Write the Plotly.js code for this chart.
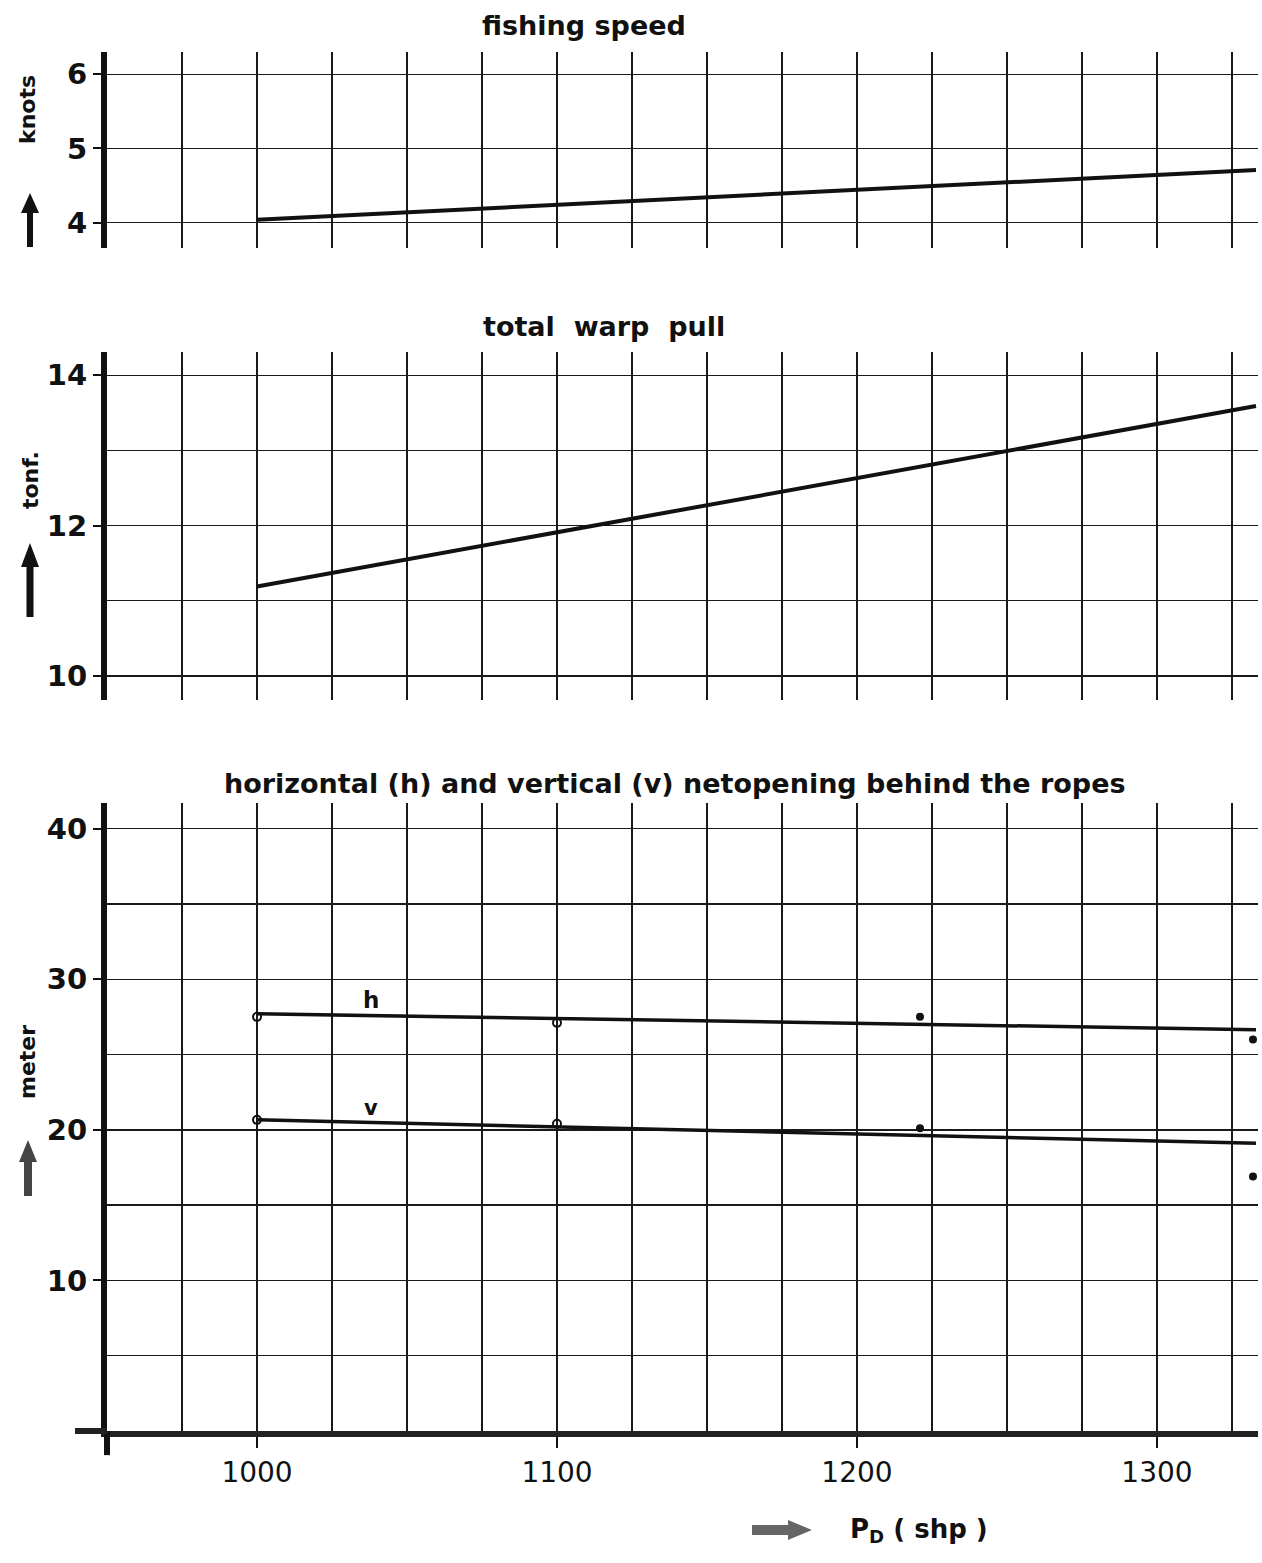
<!DOCTYPE html>
<html>
<head>
<meta charset="utf-8">
<script src="https://cdn.plot.ly/plotly-3.0.1.min.js"></script>
<style>
html,body{margin:0;padding:0;background:#fff;}
#chart{width:1262px;height:1563px;}
</style>
</head>
<body>
<div id="chart"></div>
<script>
// ---- data ----
const speedX = [1000, 1333];
const speedY = [4.04, 4.71];

const pullX = [1000, 1333];
const pullY = [11.19, 13.59];

const hLineX = [1000, 1333];
const hLineY = [27.7, 26.65];
const vLineX = [1000, 1333];
const vLineY = [20.66, 19.1];

const hOpenX = [1000, 1100];
const hOpenY = [27.5, 27.1];
const hFillX = [1221, 1332];
const hFillY = [27.5, 26.0];

const vOpenX = [1000, 1100];
const vOpenY = [20.66, 20.4];
const vFillX = [1221, 1332];
const vFillY = [20.1, 16.9];

const xTickVals = [1000, 1100, 1200, 1300];
const xTickText = ['1000', '1100', '1200', '1300'];
const netTickVals = [10, 20, 30, 40];
const netTickText = ['10', '20', '30', '40'];

const titles = ['fishing speed', 'total  warp  pull',
  'horizontal (h) and vertical (v) netopening behind the ropes'];
const yTitles = ['knots', 'tonf.', 'meter'];

// ---- styling ----
const W = 1262, H = 1563;
const M = {l: 107, r: 4, t: 52, b: 132};
const PW = W - M.l - M.r, PH = H - M.t - M.b;
const titleFont = {family: 'DejaVu Sans', size: 27, color: '#111', weight: 'bold'};
const yTitleFont = {family: 'DejaVu Sans', size: 22, color: '#111', weight: 'bold'};
const yTickFont = {family: 'DejaVu Sans', size: 29, color: '#111', weight: 'bold'};
const gridCol = '#1a1a1a';

const xBase = {
  range: [950, 1333.67],
  showgrid: true, gridcolor: gridCol, gridwidth: 1.6,
  tickvals: xTickVals, ticktext: xTickText,
  minor: {dtick: 25, tick0: 1000, showgrid: true, gridcolor: gridCol, gridwidth: 1.6, ticks: ''},
  zeroline: false, fixedrange: true
};
function yBase(extra) {
  return Object.assign({
    showline: true, linecolor: '#111', linewidth: 6,
    showgrid: true, gridcolor: gridCol, gridwidth: 1.4,
    ticks: 'outside', ticklen: 8, tickwidth: 2, tickcolor: '#111',
    tickfont: yTickFont, zeroline: false, fixedrange: true
  }, extra);
}

const lineStyle = {color: '#111', width: 4};
const thinLine = {color: '#111', width: 3.5};
const openMarker = {symbol: 'circle-open', size: 8, color: '#111', line: {width: 2, color: '#111'}};
const fillMarker = {symbol: 'circle', size: 8, color: '#111'};

const traces = [
  {x: speedX, y: speedY, xaxis: 'x', yaxis: 'y', mode: 'lines', line: lineStyle},
  {x: pullX, y: pullY, xaxis: 'x2', yaxis: 'y2', mode: 'lines', line: lineStyle},
  {x: hLineX, y: hLineY, xaxis: 'x3', yaxis: 'y3', mode: 'lines', line: thinLine},
  {x: vLineX, y: vLineY, xaxis: 'x3', yaxis: 'y3', mode: 'lines', line: thinLine},
  {x: hOpenX, y: hOpenY, xaxis: 'x3', yaxis: 'y3', mode: 'markers', marker: openMarker},
  {x: vOpenX, y: vOpenY, xaxis: 'x3', yaxis: 'y3', mode: 'markers', marker: openMarker},
  {x: hFillX, y: hFillY, xaxis: 'x3', yaxis: 'y3', mode: 'markers', marker: fillMarker},
  {x: vFillX, y: vFillY, xaxis: 'x3', yaxis: 'y3', mode: 'markers', marker: fillMarker}
];

function txt(text, x, y, font, extra) {
  return Object.assign({text: text, xref: 'paper', yref: 'paper', x: x, y: y,
    xanchor: 'center', yanchor: 'middle', showarrow: false, font: font}, extra || {});
}
// decorative arrows as filled paths, given in page pixels -> paper fractions
const px = v => ((v - M.l) / PW).toFixed(5);
const py = v => (1 - (v - M.t) / PH).toFixed(5);
function upArrowPath(cx, tip, base, tail, hw, sw, col) {
  const d = 'M' + px(cx) + ',' + py(tip) +
    ' L' + px(cx + hw) + ',' + py(base) + ' L' + px(cx + sw) + ',' + py(base) +
    ' L' + px(cx + sw) + ',' + py(tail) + ' L' + px(cx - sw) + ',' + py(tail) +
    ' L' + px(cx - sw) + ',' + py(base) + ' L' + px(cx - hw) + ',' + py(base) + ' Z';
  return {type: 'path', xref: 'paper', yref: 'paper', path: d, fillcolor: col, line: {width: 0}};
}
function rightArrowPath(cy, tip, base, tail, hh, sh, col) {
  const d = 'M' + px(tip) + ',' + py(cy) +
    ' L' + px(base) + ',' + py(cy - hh) + ' L' + px(base) + ',' + py(cy - sh) +
    ' L' + px(tail) + ',' + py(cy - sh) + ' L' + px(tail) + ',' + py(cy + sh) +
    ' L' + px(base) + ',' + py(cy + sh) + ' L' + px(base) + ',' + py(cy + hh) + ' Z';
  return {type: 'path', xref: 'paper', yref: 'paper', path: d, fillcolor: col, line: {width: 0}};
}

const layout = {
  width: W, height: H,
  margin: M,
  paper_bgcolor: '#fff', plot_bgcolor: '#fff',
  showlegend: false,
  xaxis: Object.assign({}, xBase, {anchor: 'y', showticklabels: false, ticks: ''}),
  xaxis2: Object.assign({}, xBase, {anchor: 'y2', showticklabels: false, ticks: ''}),
  xaxis3: Object.assign({}, xBase, {anchor: 'y3', showticklabels: true,
    ticks: 'outside', ticklen: 11, tickwidth: 2.5, tickcolor: '#111',
    showline: true, linecolor: '#222', linewidth: 6,
    tickfont: {family: 'DejaVu Sans', size: 28, color: '#111'}}),
  yaxis: yBase({domain: [0.8579, 1.0], range: [3.66, 6.30], dtick: 1, tick0: 4}),
  yaxis2: yBase({domain: [0.5301, 0.7825], range: [9.68, 14.31], dtick: 2, tick0: 10,
    minor: {dtick: 1, tick0: 10, showgrid: true, gridcolor: gridCol, gridwidth: 1.4, ticks: ''}}),
  yaxis3: yBase({domain: [0, 0.4554], range: [0, 41.7], tickvals: netTickVals, ticktext: netTickText,
    minor: {dtick: 5, tick0: 0, showgrid: true, gridcolor: gridCol, gridwidth: 1.4, ticks: ''}}),
  shapes: [
    // axis overshoot below the zero line and left of the y axis
    {type: 'line', xref: 'paper', yref: 'paper', x0: 0, x1: 0, y0: -0.0175, y1: 0,
     line: {color: '#111', width: 6}},
    {type: 'line', xref: 'paper', yref: 'paper', x0: -0.0278, x1: 0, y0: 0, y1: 0,
     line: {color: '#222', width: 6}},
    upArrowPath(30, 193, 213, 247, 9, 3, '#111'),
    upArrowPath(30, 543, 567, 617, 9, 3.5, '#111'),
    upArrowPath(28, 1140, 1162, 1196, 9, 4, '#444'),
    rightArrowPath(1530, 812, 788, 752, 10, 5, '#666')
  ],
  annotations: [
    txt(titles[0], 0.4144, 1.0189, titleFont),
    txt(titles[1], 0.4318, 0.8006, titleFont),
    txt(titles[2], 0.4935, 0.4699, titleFont),
    txt(yTitles[0], -0.0686, 0.958, yTitleFont, {textangle: -90}),
    txt(yTitles[1], -0.0669, 0.6896, yTitleFont, {textangle: -90}),
    txt(yTitles[2], -0.0686, 0.2676, yTitleFont, {textangle: -90}),
    txt('P<sub>D</sub> ( shp )', 0.7055, -0.0718, {family: 'DejaVu Sans', size: 26, color: '#111', weight: 'bold'}),
    {text: 'h', xref: 'x3', yref: 'y3', x: 1038, y: 28.64, showarrow: false,
     font: {family: 'DejaVu Sans', size: 23, color: '#111', weight: 'bold'}},
    {text: 'v', xref: 'x3', yref: 'y3', x: 1038, y: 21.46, showarrow: false,
     font: {family: 'DejaVu Sans', size: 21, color: '#111', weight: 'bold'}}
  ]
};

Plotly.newPlot('chart', traces, layout, {staticPlot: true, displayModeBar: false});
</script>
</body>
</html>
